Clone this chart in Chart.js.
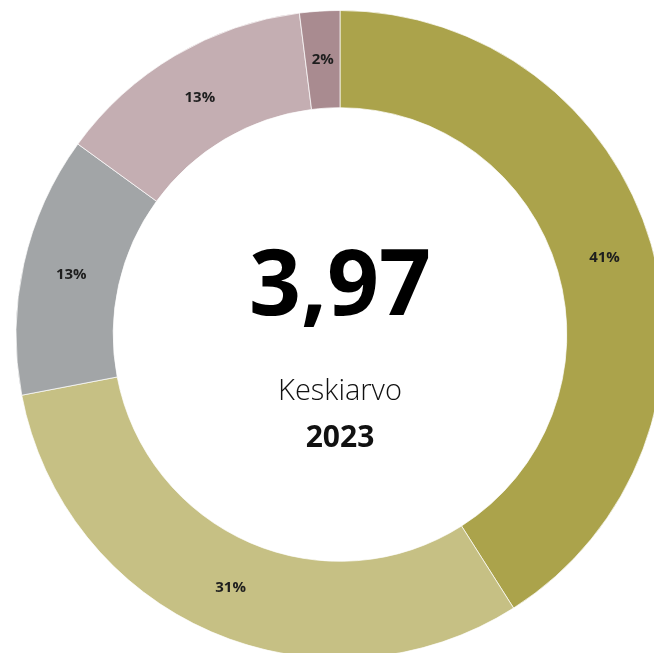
<!DOCTYPE html>
<html>
<head>
<meta charset="utf-8">
<script src="https://cdn.jsdelivr.net/npm/chart.js@4/dist/chart.umd.min.js"></script>
<style>
  html, body { margin: 0; padding: 0; background: #fff; overflow: hidden; }
  #wrap { position: relative; width: 654px; height: 653px; }
</style>
</head>
<body>
<div id="wrap"><canvas id="c" width="654" height="653"></canvas></div>
<script>
// Data (rating scale answers, share in percent)
const categories = ['5', '4', '3', '2', '1'];
const shares = [41, 31, 13, 13, 2];
const sliceColors = ['#aba34b', '#c6c084', '#a2a5a7', '#c4aeb2', '#a98b90'];
const averageLabel = '3,97';
const subtitle = 'Keskiarvo';
const yearLabel = '2023';

const labelsPlugin = {
  id: 'sliceLabels',
  afterDatasetsDraw(chart) {
    const ctx = chart.ctx;
    const meta = chart.getDatasetMeta(0);
    ctx.save();
    ctx.fillStyle = '#1e1e1e';
    ctx.font = 'bold 15px "Open Sans", "Noto Sans", sans-serif';
    ctx.textAlign = 'center';
    ctx.textBaseline = 'middle';
    meta.data.forEach((arc, i) => {
      const p = arc.tooltipPosition();
      ctx.fillText(shares[i] + '%', p.x, p.y);
    });
    // centre texts
    const cx = (chart.chartArea.left + chart.chartArea.right) / 2;
    const cy = (chart.chartArea.top + chart.chartArea.bottom) / 2;
    ctx.fillStyle = '#000';
    ctx.textBaseline = 'alphabetic';
    ctx.font = 'bold 91px "Open Sans", "Noto Sans", sans-serif';
    ctx.fillText(averageLabel, cx, cy - 19.5);
    ctx.fillStyle = '#111';
    ctx.font = '300 29px "Open Sans", "Noto Sans", sans-serif';
    ctx.fillText(subtitle, cx, cy + 65.5);
    ctx.font = 'bold 30px "Open Sans", "Noto Sans", sans-serif';
    ctx.fillText(yearLabel, cx, cy + 112.5);
    ctx.restore();
  }
};

new Chart(document.getElementById('c'), {
  type: 'doughnut',
  data: {
    labels: categories,
    datasets: [{
      data: shares,
      backgroundColor: sliceColors,
      borderColor: 'rgba(255,255,255,0.7)',
      borderWidth: 1,
      radius: 324,
      cutout: '70%'
    }]
  },
  options: {
    responsive: false,
    animation: false,
    devicePixelRatio: 1,
    layout: { padding: { left: 26, top: 16, right: 0, bottom: 0 } },
    plugins: {
      legend: { display: false },
      tooltip: { enabled: false }
    }
  },
  plugins: [labelsPlugin]
});
</script>
</body>
</html>
